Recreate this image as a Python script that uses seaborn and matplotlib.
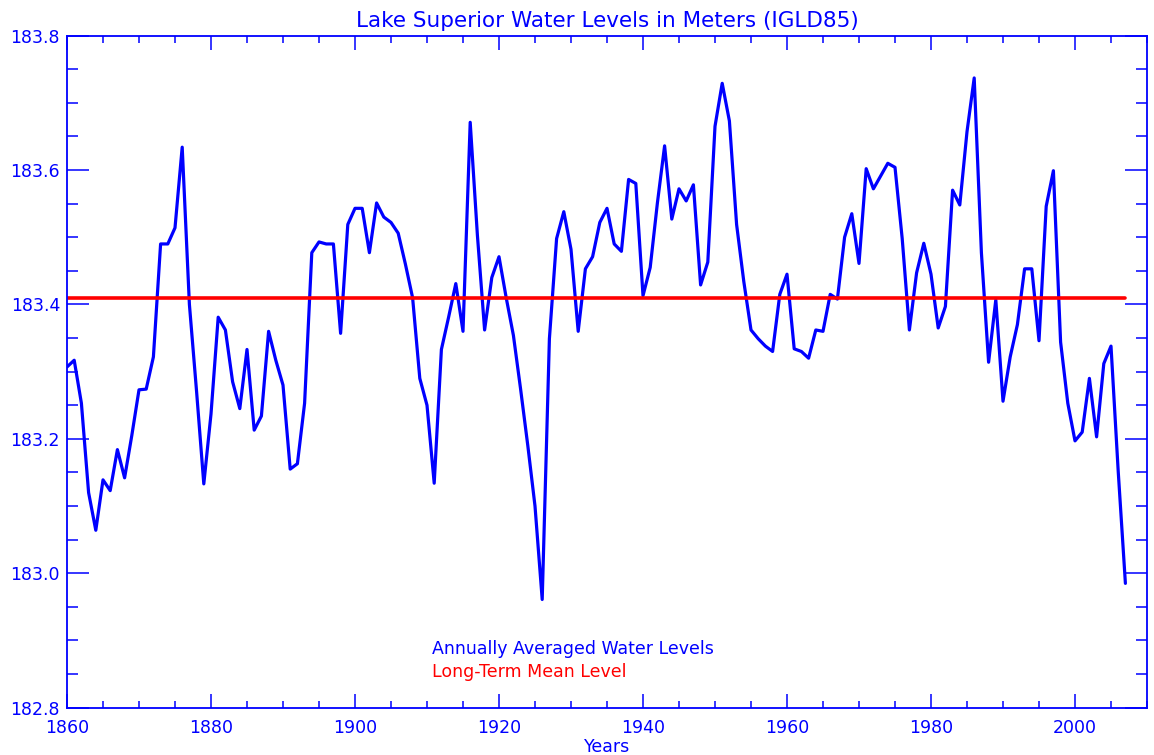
import matplotlib
matplotlib.use("Agg")
import matplotlib.pyplot as plt
import seaborn as sns
import pandas as pd
import numpy as np
from matplotlib.ticker import MultipleLocator, FormatStrFormatter

# ---- data ----
years = list(range(1860, 2008))
levels = [
    183.307, 183.317, 183.253, 183.120, 183.064, 183.139, 183.123, 183.184, 183.142, 183.205,  # 1860-1869
    183.273, 183.274, 183.322, 183.490, 183.490, 183.514, 183.634, 183.400, 183.270, 183.133,  # 1870-1879
    183.237, 183.381, 183.362, 183.285, 183.245, 183.333, 183.213, 183.234, 183.360, 183.317,  # 1880-1889
    183.280, 183.155, 183.163, 183.253, 183.477, 183.493, 183.490, 183.490, 183.357, 183.519,  # 1890-1899
    183.543, 183.543, 183.477, 183.551, 183.530, 183.522, 183.506, 183.460, 183.410, 183.290,  # 1900-1909
    183.250, 183.134, 183.333, 183.381, 183.431, 183.360, 183.671, 183.503, 183.362, 183.440,  # 1910-1919
    183.471, 183.410, 183.354, 183.274, 183.190, 183.100, 182.961, 183.349, 183.498, 183.538,  # 1920-1929
    183.482, 183.360, 183.453, 183.471, 183.522, 183.543, 183.490, 183.479, 183.586, 183.580,  # 1930-1939
    183.413, 183.455, 183.551, 183.636, 183.527, 183.572, 183.554, 183.578, 183.429, 183.463,  # 1940-1949
    183.665, 183.729, 183.673, 183.519, 183.434, 183.362, 183.349, 183.338, 183.330, 183.415,  # 1950-1959
    183.445, 183.334, 183.330, 183.320, 183.362, 183.360, 183.415, 183.408, 183.500, 183.535,  # 1960-1969
    183.461, 183.602, 183.572, 183.591, 183.610, 183.604, 183.498, 183.362, 183.447, 183.491,  # 1970-1979
    183.445, 183.365, 183.397, 183.570, 183.548, 183.657, 183.737, 183.477, 183.314, 183.407,  # 1980-1989
    183.256, 183.322, 183.370, 183.453, 183.453, 183.346, 183.546, 183.599, 183.344, 183.253,  # 1990-1999
    183.197, 183.210, 183.290, 183.203, 183.312, 183.338, 183.152, 182.985,                    # 2000-2007
]
mean_level = 183.41

title = "Lake Superior Water Levels in Meters (IGLD85)"
x_label = "Years"
series_label = "Annually Averaged Water Levels"
mean_label = "Long-Term Mean Level"

BLUE = "#0000ff"
RED = "#ff0000"

sns.set_style("white")
plt.rcParams["font.family"] = ["DejaVu Sans"]

df = pd.DataFrame({"year": years, "level": levels})
mean_df = pd.DataFrame({"year": [years[0], years[-1]], "level": [mean_level, mean_level]})

fig = plt.figure(figsize=(11.54, 7.55), dpi=100)
ax = fig.add_axes([67 / 1154, 1 - 707.7 / 755, (1147 - 67) / 1154, (707.7 - 35.6) / 755])

sns.lineplot(data=df, x="year", y="level", ax=ax, color=BLUE, linewidth=2.3)
sns.lineplot(data=mean_df, x="year", y="level", ax=ax, color=RED, linewidth=2.6)

ax.set_xlim(1860, 2010)
ax.set_ylim(182.8, 183.8)

ax.xaxis.set_major_locator(MultipleLocator(20))
ax.xaxis.set_minor_locator(MultipleLocator(5))
ax.yaxis.set_major_locator(MultipleLocator(0.2))
ax.yaxis.set_minor_locator(MultipleLocator(0.05))
ax.yaxis.set_major_formatter(FormatStrFormatter("%.1f"))

for sp in ax.spines.values():
    sp.set_color(BLUE)
    sp.set_linewidth(1.3)
    sp.set_visible(True)

ax.tick_params(axis="both", which="both", direction="in", colors=BLUE,
               top=True, right=True, bottom=True, left=True,
               labelcolor=BLUE, width=1.1)
ax.tick_params(axis="x", which="major", length=10, pad=8, labelsize=12.5)
ax.tick_params(axis="x", which="minor", length=5)
ax.tick_params(axis="y", which="major", length=15.5, pad=5, labelsize=12.5)
ax.tick_params(axis="y", which="minor", length=7.7)

ax.set_xlabel(x_label, color=BLUE, fontsize=12.5, labelpad=1)
ax.set_ylabel("")
ax.set_title(title, color=BLUE, fontsize=15.5, pad=6)

ax.text(1910.7, 182.887, series_label, color=BLUE, fontsize=12.5, va="center", ha="left")
ax.text(1910.7, 182.853, mean_label, color=RED, fontsize=12.5, va="center", ha="left")

fig.savefig("out.png", dpi=100)
